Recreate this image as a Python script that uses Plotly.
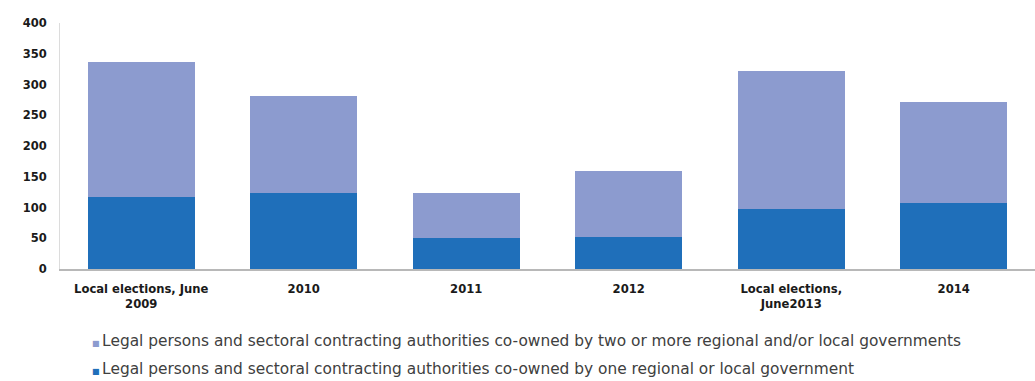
import plotly.graph_objects as go

categories = ["Local elections, June<br>2009", "2010", "2011", "2012", "Local elections,<br>June2013", "2014"]
one_gov = [117, 124, 50, 52, 97, 108]
multi_gov = [220, 157, 74, 107, 225, 163]

name_one = "Legal persons and sectoral contracting authorities co-owned by one regional or local government"
name_multi = "Legal persons and sectoral contracting authorities co-owned by two or more regional and/or local governments"

color_one = "#1f6fba"
color_multi = "#8c9bcf"

fig = go.Figure()
fig.add_trace(go.Bar(x=categories, y=one_gov, name=name_one, marker=dict(color=color_one, line=dict(width=0))))
fig.add_trace(go.Bar(x=categories, y=multi_gov, name=name_multi, marker=dict(color=color_multi, line=dict(width=0))))

# legend drawn as text rows (small coloured squares like the original)
legend_rows = [(name_multi, color_multi, -0.293), (name_one, color_one, -0.407)]
for text, col, ypos in legend_rows:
    fig.add_annotation(
        xref="paper", yref="paper", x=0.031, y=ypos, xanchor="left", yanchor="middle",
        showarrow=False, align="left",
        text=f"<span style='font-size:8px;color:{col}'>■ </span>{text}",
        font=dict(family="DejaVu Sans, sans-serif", size=15.4, color="#404040"),
    )

fig.update_layout(
    width=1035, height=381,
    barmode="stack", bargap=0.34,
    plot_bgcolor="white", paper_bgcolor="white",
    margin=dict(l=60, r=0, t=23, b=112),
    font=dict(family="DejaVu Sans, sans-serif", color="#1a1a1a"),
    showlegend=False,
    xaxis=dict(
        showline=True, linecolor="#b8b8b8", linewidth=2,
        tickfont=dict(size=11.6, color="#1a1a1a", family="DejaVu Sans, sans-serif", weight="bold"),
        ticks="", showgrid=False, ticklabelstandoff=8,
    ),
    yaxis=dict(
        range=[0, 400], dtick=50, showgrid=False, zeroline=False,
        showline=True, linecolor="#dcdcdc", linewidth=1,
        tickfont=dict(size=11.5, color="#1a1a1a", family="DejaVu Sans, sans-serif", weight="bold"),
        ticks="", ticklabelstandoff=10,
    ),
)
fig.write_html("out.html")
